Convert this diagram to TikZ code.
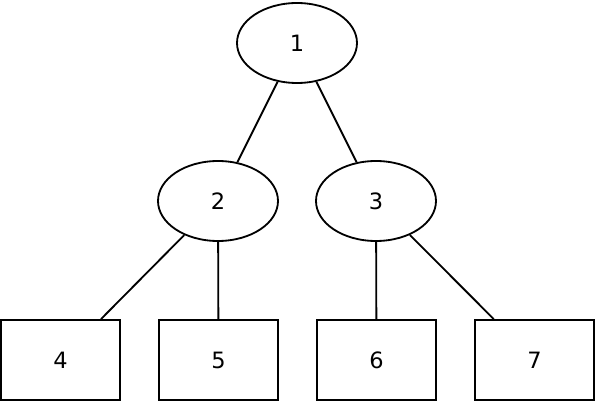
\documentclass[tikz,border=0pt]{standalone}
\usepackage{fontspec}
\setmainfont{DejaVu Sans}
\usetikzlibrary{shapes.geometric}

\begin{document}
\begin{tikzpicture}[
    every node/.style={font=\fontsize{16}{19}\selectfont},
    inner/.style={ellipse, draw, line width=1.3pt, minimum width=3cm, minimum height=2cm, inner sep=0pt},
    leaf/.style={rectangle, draw, line width=1.3pt, minimum width=2.975cm, minimum height=2cm, inner sep=0pt}]
    \useasboundingbox (0,0) rectangle (15,10.1);
    % Root and middle level
    \node[inner] (n1) at (7.425, 9.025) {1};
    \node[inner] (n2) at (5.45, 5.075) {2};
    \node[inner] (n3) at (9.4, 5.075) {3};

    % Leaves
    \node[leaf] (n4) at (1.5125, 1.1) {4};
    \node[leaf] (n5) at (5.4625, 1.1) {5};
    \node[leaf] (n6) at (9.4125, 1.1) {6};
    \node[leaf] (n7) at (13.3625, 1.1) {7};

    % Edges
    \draw[line width=1.3pt] (n1) -- (n2);
    \draw[line width=1.3pt] (n1) -- (n3);
    \draw[line width=1.3pt] (n2) -- (n4);
    \draw[line width=1.3pt] (n2) -- (n5);
    \draw[line width=1.3pt] (n3) -- (n6);
    \draw[line width=1.3pt] (n3) -- (n7);
  \end{tikzpicture}
\end{document}
